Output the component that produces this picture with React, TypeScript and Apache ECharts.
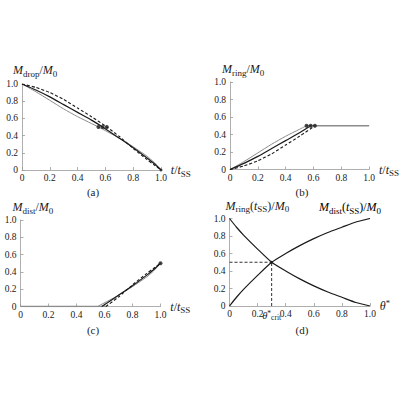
import { useEffect, useRef } from 'react'
import * as echarts from 'echarts'

const FONT = 'Liberation Serif, DejaVu Serif, serif'
const INK = '#1a1a1a'
const GRAY = '#8c8c8c'
const AXIS = '#9a9a9a'

// t / t_SS samples and normalised masses
const GRAY_T = [0, 0.1, 0.2, 0.3, 0.4, 0.5, 0.55, 0.7, 0.8, 0.9, 0.95, 1.0]
const GRAY_DROP = [1, 0.91, 0.81, 0.71, 0.62, 0.54, 0.5, 0.37, 0.27, 0.16, 0.09, 0]
const GRAY_RING = [0, 0.09, 0.19, 0.29, 0.38, 0.46, 0.5]
const GRAY_DIST_T = [0.55, 0.7, 0.8, 0.9, 0.95, 1.0]
const GRAY_DIST = [0, 0.13, 0.23, 0.34, 0.41, 0.5]

const BLACK_T = [0, 0.1, 0.2, 0.3, 0.4, 0.5, 0.58, 0.7, 0.8, 0.9, 0.95, 1.0]
const BLACK_DROP = [1, 0.93, 0.85, 0.76, 0.67, 0.58, 0.5, 0.37, 0.26, 0.14, 0.075, 0]
const BLACK_RING = [0, 0.07, 0.15, 0.24, 0.33, 0.42, 0.5]
const BLACK_DIST_T = [0.58, 0.7, 0.8, 0.9, 0.95, 1.0]
const BLACK_DIST = [0, 0.13, 0.24, 0.36, 0.425, 0.5]

const DASH_T = [0, 0.1, 0.2, 0.3, 0.4, 0.5, 0.61, 0.7, 0.8, 0.9, 0.95, 1.0]
const DASH_DROP = [1, 0.96, 0.9, 0.82, 0.72, 0.62, 0.5, 0.39, 0.25, 0.12, 0.06, 0]
const DASH_RING = [0, 0.04, 0.1, 0.18, 0.28, 0.38, 0.5]
const DASH_DIST_T = [0.61, 0.7, 0.8, 0.9, 0.95, 1.0]
const DASH_DIST = [0, 0.11, 0.25, 0.38, 0.44, 0.5]

const SAT_T = [0.55, 0.58, 0.61]
const SAT_M = [0.5, 0.5, 0.5]
const RING_FLAT_T = [0.55, 1.0]
const RING_FLAT = [0.5, 0.5]
const DIST_ZERO_T = [0, 0.61]
const DIST_ZERO = [0, 0]

// panel (d): final masses vs theta*
const THETA = [0, 0.05, 0.1, 0.2, 0.3, 0.4, 0.5, 0.6, 0.7, 0.8, 0.9, 1.0]
const RING_SS = [1, 0.9, 0.81, 0.65, 0.5, 0.4, 0.31, 0.23, 0.16, 0.1, 0.04, 0]
const DIST_SS = [0, 0.1, 0.19, 0.35, 0.5, 0.6, 0.69, 0.77, 0.84, 0.9, 0.96, 1]
const THETA_CRIT = 0.3
const M_CRIT = 0.5

const TICKS = [0, 0.2, 0.4, 0.6, 0.8, 1.0]
const THETA_LABELS = [0, 0.2, 0.3, 0.4, 0.6, 0.8, 1.0]

const zip = (xs: number[], ys: number[]) => ys.map((y, i) => [xs[i], y])

const rich = {
  i: { fontFamily: FONT, fontStyle: 'italic', fontSize: 12, lineHeight: 16, color: INK },
  n: { fontFamily: FONT, fontSize: 12, lineHeight: 16, color: INK },
  s: { fontFamily: FONT, fontSize: 9, lineHeight: 6, verticalAlign: 'bottom', color: INK },
  p: { fontFamily: FONT, fontSize: 8.5, lineHeight: 10, verticalAlign: 'top', color: INK },
}

const tLabel = '{i|t}{n|/}{i|t}{s|SS}'

function xAxis(gridIndex: number, name: string, theta = false) {
  return {
    type: 'value', gridIndex, min: 0, max: 1, interval: 0.2,
    name, nameLocation: 'end', nameGap: 5,
    nameTextStyle: { rich, verticalAlign: 'middle' },
    axisLine: { lineStyle: { color: AXIS, width: 0.8 } },
    axisTick: { inside: true, length: 3, lineStyle: { color: AXIS, width: 0.8 },
      ...(theta ? { customValues: TICKS } : {}) },
    splitLine: { show: false },
    axisLabel: {
      color: INK, fontFamily: FONT, fontSize: 9.5, margin: 3,
      ...(theta ? { customValues: THETA_LABELS } : {}),
      rich: {
        th: { fontFamily: FONT, fontStyle: 'italic', fontSize: 10.5, lineHeight: 12, color: INK },
        sp: { fontFamily: FONT, fontSize: 7.5, verticalAlign: 'top', lineHeight: 12, color: INK },
        sb: { fontFamily: FONT, fontSize: 7.5, verticalAlign: 'bottom', lineHeight: 5, color: INK },
      },
      formatter: (v: number) => {
        if (theta && Math.abs(v - THETA_CRIT) < 1e-6) return '{th|θ}{sp|*}{sb|crit}'
        return v === 0 ? '0' : v.toFixed(1)
      },
    },
  }
}

function yAxis(gridIndex: number, name: string, gap = 13, shift = -8) {
  return {
    type: 'value', gridIndex, min: 0, max: 1, interval: 0.2,
    name, nameLocation: 'end', nameGap: gap,
    nameTextStyle: { rich, align: 'left', verticalAlign: 'middle', padding: [0, 0, 0, shift] },
    axisLine: { lineStyle: { color: AXIS, width: 0.8 } },
    axisTick: { inside: true, length: 3, lineStyle: { color: AXIS, width: 0.8 } },
    splitLine: { show: false },
    axisLabel: {
      color: INK, fontFamily: FONT, fontSize: 9.5, margin: 4,
      formatter: (v: number) => (v === 0 ? '0' : v.toFixed(1)),
    },
  }
}

function line(i: number, data: number[][], kind: 'gray' | 'black' | 'dash' | 'guide') {
  const style =
    kind === 'gray' ? { color: GRAY, width: 1 }
    : kind === 'black' ? { color: INK, width: 1.2 }
    : kind === 'dash' ? { color: INK, width: 1.1, type: [3, 2] }
    : { color: INK, width: 0.9, type: [3, 2] }
  return {
    type: 'line', xAxisIndex: i, yAxisIndex: i, data, showSymbol: false,
    smooth: kind === 'guide' ? false : 0.2, lineStyle: style, silent: true,
  }
}

function dots(i: number, data: number[][], size = 4) {
  return {
    type: 'scatter', xAxisIndex: i, yAxisIndex: i, data, symbolSize: size,
    itemStyle: { color: INK }, z: 5, silent: true,
  }
}

function caption(x: number, y: number, text: string) {
  return {
    type: 'text', x, y,
    style: { text, fill: INK, font: `11px ${FONT}`, align: 'center', verticalAlign: 'middle' },
  }
}

export default function App() {
  const ref = useRef<HTMLDivElement>(null)

  useEffect(() => {
    if (!ref.current) return
    const chart = echarts.init(ref.current, undefined, { renderer: 'svg' })

    chart.setOption({
      animation: false,
      backgroundColor: '#ffffff',
      textStyle: { fontFamily: FONT },
      grid: [
        { left: 22, top: 84, width: 139, height: 86 },
        { left: 230, top: 82, width: 140, height: 87.5 },
        { left: 20.5, top: 220, width: 140, height: 86.5 },
        { left: 229.5, top: 218.5, width: 140.5, height: 87.5 },
      ],
      xAxis: [
        xAxis(0, tLabel),
        xAxis(1, tLabel),
        xAxis(2, tLabel),
        xAxis(3, '{i|θ}{p|*}', true),
      ],
      yAxis: [
        yAxis(0, '{i|M}{s|drop}{n|/}{i|M}{s|0}', 14, -9),
        yAxis(1, '{i|M}{s|ring}{n|/}{i|M}{s|0}', 12, -8),
        yAxis(2, '{i|M}{s|dist}{n|/}{i|M}{s|0}', 13, -8),
        yAxis(3, '{i|M}{s|ring}{n|(}{i|t}{s|SS}{n|)/}{i|M}{s|0}', 11, -4),
      ],
      graphic: [
        caption(93, 192, '(a)'),
        caption(302, 192, '(b)'),
        caption(93, 330, '(c)'),
        caption(302, 330, '(d)'),
        {
          type: 'text', x: 350, y: 207,
          style: {
            text: '{i|M}{s|dist}{n|(}{i|t}{s|SS}{n|)/}{i|M}{s|0}', rich,
            align: 'center', verticalAlign: 'middle',
          },
        },
      ],
      series: [
        // (a) droplet mass
        line(0, zip(GRAY_T, GRAY_DROP), 'gray'),
        line(0, zip(BLACK_T, BLACK_DROP), 'black'),
        line(0, zip(DASH_T, DASH_DROP), 'dash'),
        dots(0, zip(SAT_T, SAT_M)),
        dots(0, [[1, 0]], 3),
        // (b) ring mass
        line(1, zip(GRAY_T, GRAY_RING), 'gray'),
        line(1, zip(BLACK_T, BLACK_RING), 'black'),
        line(1, zip(DASH_T, DASH_RING), 'dash'),
        { ...line(1, zip(RING_FLAT_T, RING_FLAT), 'gray'), lineStyle: { color: GRAY, width: 1.4 } },
        dots(1, zip(SAT_T, SAT_M)),
        // (c) distributed mass
        { ...line(2, zip(DIST_ZERO_T, DIST_ZERO), 'gray'), lineStyle: { color: GRAY, width: 1.4 } },
        line(2, zip(GRAY_DIST_T, GRAY_DIST), 'gray'),
        line(2, zip(BLACK_DIST_T, BLACK_DIST), 'black'),
        line(2, zip(DASH_DIST_T, DASH_DIST), 'dash'),
        dots(2, [[1, 0.5]]),
        // (d) final masses vs theta*
        line(3, zip(THETA, RING_SS), 'black'),
        line(3, zip(THETA, DIST_SS), 'black'),
        line(3, [[0, M_CRIT], [THETA_CRIT, M_CRIT]], 'guide'),
        line(3, [[THETA_CRIT, 0], [THETA_CRIT, M_CRIT]], 'guide'),
        dots(3, [[THETA_CRIT, M_CRIT]], 3),
      ],
    })

    return () => chart.dispose()
  }, [])

  return <div ref={ref} style={{ position: 'absolute', left: 0, top: 0, width: 400, height: 400 }} />
}
